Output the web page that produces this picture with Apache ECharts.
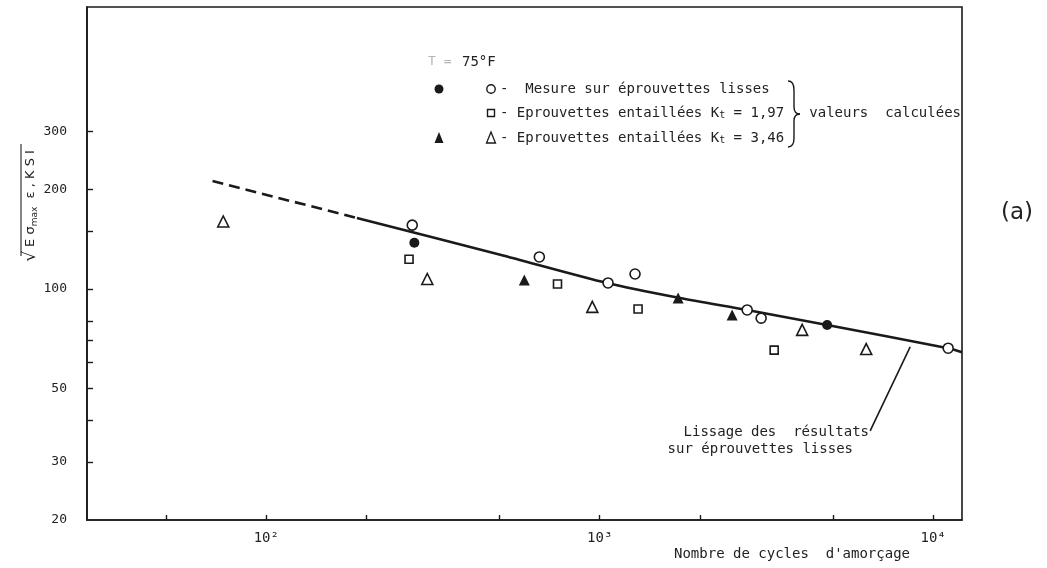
<!DOCTYPE html>
<html>
<head>
<meta charset="utf-8">
<script src="https://cdn.jsdelivr.net/npm/echarts@6/dist/echarts.min.js"></script>
<style>
  html, body { margin: 0; padding: 0; background: #fff; }
  #chart { width: 1047px; height: 568px; }
</style>
</head>
<body>
<div id="chart"></div>
<script>
// Smoothing curve through the smooth-specimen results: [cycles, stress]
const curveDashed = [[69, 212], [187, 164]];
const curveSolid = [[187, 164], [503, 127], [1052, 104.3], [1742, 93.9], [2768, 86.4], [4808, 77.8], [11090, 66.2], [12200, 64.4]];

// Measured / calculated points: [cycles, stress]
const smoothOpen = [[274, 156], [659, 125], [1059, 104.3], [1276, 111], [2768, 86.4], [3048, 81.6], [11090, 66.2]];
const smoothFilled = [[278, 138], [4808, 77.8]];
const kt197Open = [[268, 123], [747, 103.5], [1303, 87], [3335, 65.3]];
const kt346Filled = [[594, 106.5], [1718, 93.9], [2495, 83.4]];
const kt346Open = [[74.3, 160], [304, 107.2], [950, 88.3], [4046, 75.2], [6297, 65.8]];

// Axis ticks and labels
const xTicks = [50, 100, 200, 500, 1000, 2000, 5000, 10000];
const xLabels = [100, 1000, 10000];
const xLabelText = { 100: '10²', 1000: '10³', 10000: '10⁴' };
const yTicks = [30, 40, 50, 60, 70, 80, 100, 150, 200, 300];
const yLabels = [20, 30, 50, 100, 200, 300];

// Pointer from the curve caption to the curve
const arrowFrom = [6470, 37.2];
const arrowTo = [8530, 66.8];

// Lettering-guide style text: evenly spaced monospace
const FONT = 'DejaVu Sans Mono';
const SANS = 'DejaVu Sans';
const INK = '#1a1a1a';
const TXT = '#222';

const chart = echarts.init(document.getElementById('chart'), null, { renderer: 'canvas' });

const openStyle = { color: '#fff', borderColor: INK, borderWidth: 1.6, opacity: 1 };
const filledStyle = { color: INK, borderColor: INK, borderWidth: 0, opacity: 1 };

function scatter(name, data, symbol, size, style) {
  return {
    name, type: 'scatter', data, symbol, symbolSize: size,
    itemStyle: style, z: 5, silent: true, animation: false
  };
}

// Curly brace joining the three legend rows, built from curves and lines
function brace(x, y0, y1, w) {
  const ym = (y0 + y1) / 2;
  const xc = x + w * 0.5;
  const st = { stroke: INK, lineWidth: 1.4, fill: 'none' };
  return [
    { type: 'bezierCurve', shape: { x1: x, y1: y0, cpx1: xc, cpy1: y0, x2: xc, y2: y0 + 9 }, style: st },
    { type: 'line', shape: { x1: xc, y1: y0 + 9, x2: xc, y2: ym - 7 }, style: st },
    { type: 'bezierCurve', shape: { x1: xc, y1: ym - 7, cpx1: xc, cpy1: ym, x2: x + w, y2: ym }, style: st },
    { type: 'bezierCurve', shape: { x1: x + w, y1: ym, cpx1: xc, cpy1: ym, x2: xc, y2: ym + 7 }, style: st },
    { type: 'line', shape: { x1: xc, y1: ym + 7, x2: xc, y2: y1 - 9 }, style: st },
    { type: 'bezierCurve', shape: { x1: xc, y1: y1 - 9, cpx1: xc, cpy1: y1, x2: x, y2: y1 }, style: st }
  ];
}

const legendText = { fontFamily: FONT, fontSize: 14, fill: TXT, textVerticalAlign: 'middle' };
const subRich = { t: { fontSize: 10, verticalAlign: 'bottom', fontFamily: FONT, fill: TXT } };

// Legend row positions
const ROW1 = 89, ROW2 = 113, ROW3 = 138;

const option = {
  backgroundColor: '#fff',
  animation: false,
  grid: {
    left: 87, right: 85, top: 7, bottom: 48,
    show: true, borderColor: INK, borderWidth: 1.6, backgroundColor: 'transparent'
  },
  xAxis: {
    type: 'log', logBase: 10, min: 29, max: 12200,
    axisLine: { show: true, lineStyle: { color: INK, width: 1.6 } },
    axisTick: { show: true, inside: true, length: 5, customValues: xTicks, lineStyle: { color: INK, width: 1.4 } },
    minorTick: { show: false },
    splitLine: { show: false },
    axisLabel: {
      customValues: xLabels, margin: 11,
      fontFamily: FONT, fontSize: 14, color: TXT,
      formatter: v => xLabelText[Math.round(v)] || ''
    },
    name: "Nombre de cycles  d'amorçage",
    nameLocation: 'end', nameGap: 0,
    nameTextStyle: { fontFamily: FONT, fontSize: 14, color: TXT, align: 'right', verticalAlign: 'top', padding: [27, 52, 0, 0] }
  },
  yAxis: {
    type: 'log', logBase: 10, min: 20, max: 713,
    axisLine: { show: true, lineStyle: { color: INK, width: 1.6 } },
    axisTick: { show: true, inside: true, length: 6, customValues: yTicks, lineStyle: { color: INK, width: 1.4 } },
    minorTick: { show: false },
    splitLine: { show: false },
    axisLabel: {
      customValues: yLabels, margin: 20, align: 'right',
      fontFamily: FONT, fontSize: 13, color: TXT
    }
  },
  series: [
    {
      name: 'Lissage (extrapolé)', type: 'line', data: curveDashed, symbol: 'none',
      lineStyle: { color: INK, width: 2.6, type: [11, 6] }, z: 2, silent: true
    },
    {
      name: 'Lissage des résultats', type: 'line', data: curveSolid, symbol: 'none', smooth: 0.25,
      lineStyle: { color: INK, width: 2.6 }, z: 2, silent: true,
      markLine: {
        silent: true, symbol: ['none', 'arrow'], symbolSize: [0, 9],
        lineStyle: { color: INK, width: 1.6, type: 'solid' },
        label: { show: false },
        data: [[{ coord: arrowFrom }, { coord: arrowTo }]]
      }
    },
    scatter('Mesure sur éprouvettes lisses', smoothOpen, 'circle', 10, openStyle),
    scatter('Mesure sur éprouvettes lisses (calc.)', smoothFilled, 'circle', 10, filledStyle),
    scatter('Eprouvettes entaillées Kt = 1,97', kt197Open, 'rect', 8, openStyle),
    scatter('Eprouvettes entaillées Kt = 3,46 (calc.)', kt346Filled, 'triangle', 11, filledStyle),
    scatter('Eprouvettes entaillées Kt = 3,46', kt346Open, 'triangle', 11, openStyle)
  ],
  graphic: [
    // Axis title: sqrt(E sigma_max epsilon), KSI
    {
      type: 'group', x: 31, y: 206, rotation: Math.PI / 2,
      children: [
        {
          type: 'text', x: 0, y: 0,
          style: {
            text: '{r|√}{a| E σ}{s|max}{a|  ε , K S I}',
            align: 'center', verticalAlign: 'middle', fill: TXT,
            rich: {
              r: { fontFamily: SANS, fontSize: 17, fill: TXT },
              a: { fontFamily: SANS, fontSize: 13, fill: TXT },
              s: { fontFamily: SANS, fontSize: 9, fill: TXT, verticalAlign: 'bottom' }
            }
          }
        },
        { type: 'line', shape: { x1: -50, y1: -10, x2: 62, y2: -10 }, style: { stroke: TXT, lineWidth: 1.1 } }
      ]
    },
    // Legend
    { type: 'text', x: 428, y: 62, style: { text: 'T =', fontFamily: FONT, fontSize: 13, fill: '#b5b5b5', textVerticalAlign: 'middle' } },
    { type: 'text', x: 462, y: 62, style: { text: '75°F', fontFamily: FONT, fontSize: 14, fill: TXT, textVerticalAlign: 'middle' } },

    { type: 'circle', shape: { cx: 439, cy: ROW1, r: 4.5 }, style: { fill: INK } },
    { type: 'circle', shape: { cx: 491, cy: ROW1, r: 4.2 }, style: { fill: '#fff', stroke: INK, lineWidth: 1.4 } },
    { type: 'text', x: 500, y: ROW1, style: Object.assign({ text: '-  Mesure sur éprouvettes lisses' }, legendText) },

    { type: 'rect', shape: { x: 487.5, y: ROW2 - 3.5, width: 7, height: 7 }, style: { fill: '#fff', stroke: INK, lineWidth: 1.4 } },
    { type: 'text', x: 500, y: ROW2, style: Object.assign({ text: '- Eprouvettes entaillées K{t|t} = 1,97', rich: subRich }, legendText) },

    { type: 'polygon', shape: { points: [[439, ROW3 - 6], [443.5, ROW3 + 5], [434.5, ROW3 + 5]] }, style: { fill: INK } },
    { type: 'polygon', shape: { points: [[491, ROW3 - 6], [495.5, ROW3 + 5], [486.5, ROW3 + 5]] }, style: { fill: '#fff', stroke: INK, lineWidth: 1.3 } },
    { type: 'text', x: 500, y: ROW3, style: Object.assign({ text: '- Eprouvettes entaillées K{t|t} = 3,46', rich: subRich }, legendText) },

    ...brace(788, ROW1 - 8, ROW3 + 9, 12),
    { type: 'text', x: 961, y: ROW2, style: Object.assign({ text: 'valeurs  calculées', align: 'right' }, legendText) },

    // Caption of the smoothing curve
    { type: 'text', x: 869, y: 432, style: { text: 'Lissage des  résultats', fontFamily: FONT, fontSize: 14, fill: TXT, align: 'right', textVerticalAlign: 'middle' } },
    { type: 'text', x: 853, y: 449, style: { text: 'sur éprouvettes lisses', fontFamily: FONT, fontSize: 14, fill: TXT, align: 'right', textVerticalAlign: 'middle' } },
    // Panel tag
    { type: 'text', x: 1017, y: 213, style: { text: '(a)', fontFamily: SANS, fontSize: 23, fill: TXT, align: 'center', textVerticalAlign: 'middle' } }
  ]
};

chart.setOption(option);
</script>
</body>
</html>
